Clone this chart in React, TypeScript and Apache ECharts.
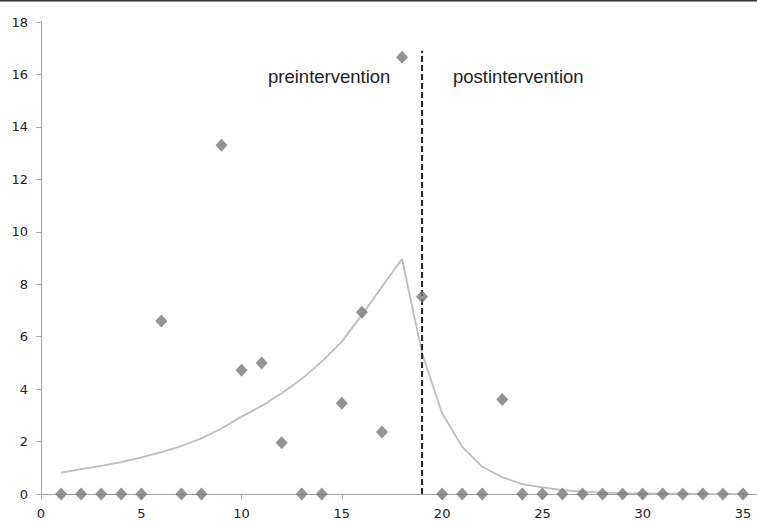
import React, { useEffect, useRef } from "react";
import * as echarts from "echarts";

// Observations (session number, value)
const obsX = [1, 2, 3, 4, 5, 6, 7, 8, 9, 10, 11, 12, 13, 14, 15, 16, 17, 18, 19, 20, 21, 22, 23, 24, 25, 26, 27, 28, 29, 30, 31, 32, 33, 34, 35];
const obsY = [0, 0, 0, 0, 0, 6.6, 0, 0, 13.3, 4.72, 5.0, 1.95, 0, 0, 3.46, 6.93, 2.36, 16.66, 7.52, 0, 0, 0, 3.6, 0, 0, 0, 0, 0, 0, 0, 0, 0, 0, 0, 0];

// Fitted trend curve
const fitX = [1, 2, 3, 4, 5, 6, 7, 8, 9, 10, 11, 12, 13, 14, 15, 16, 17, 18, 19, 20, 21, 22, 23, 24, 25, 26, 27, 28, 29, 30, 31, 32, 33, 34, 35];
const fitY = [0.81, 0.95, 1.07, 1.22, 1.4, 1.6, 1.83, 2.12, 2.5, 2.95, 3.36, 3.84, 4.39, 5.05, 5.81, 6.83, 7.9, 8.96, 5.37, 3.08, 1.8, 1.04, 0.64, 0.38, 0.25, 0.15, 0.09, 0.05, 0.03, 0.02, 0.01, 0.01, 0.0, 0.0, 0.0];

// Intervention marker
const interventionX = 19;
const interventionTop = 16.9;

const phaseLabels = ["preintervention", "postintervention"];

export default function App() {
  const ref = useRef<HTMLDivElement>(null);
  useEffect(() => {
    if (!ref.current) return;
    const chart = echarts.init(ref.current, null, { renderer: "svg" });
    const axisColor = "#a3a3a3";
    chart.setOption({
      animation: false,
      backgroundColor: "#ffffff",
      grid: {
        left: 41,
        right: 0,
        top: 22,
        bottom: 29,
        containLabel: false,
        outerBoundsMode: "none",
      },
      xAxis: {
        type: "value",
        min: 0,
        max: 35.7,
        interval: 5,
        axisLine: { show: true, lineStyle: { color: axisColor, width: 1 } },
        axisTick: { show: true, length: 5, inside: false, lineStyle: { color: axisColor } },
        splitLine: { show: false },
        axisLabel: {
          showMaxLabel: false,
          margin: 13,
          color: "#222",
          fontFamily: "DejaVu Sans",
          fontSize: 13,
        },
      },
      yAxis: {
        type: "value",
        min: 0,
        max: 18,
        interval: 2,
        axisLine: { show: true, lineStyle: { color: axisColor, width: 1 } },
        axisTick: { show: true, length: 5, lineStyle: { color: axisColor } },
        splitLine: { show: false },
        axisLabel: {
          margin: 13,
          color: "#222",
          fontFamily: "DejaVu Sans",
          fontSize: 13,
        },
      },
      series: [
        {
          type: "line",
          data: fitX.map((x, i) => [x, fitY[i]]),
          showSymbol: false,
          symbol: "none",
          smooth: false,
          lineStyle: { color: "#bdbdbd", width: 1.8 },
          z: 2,
        },
        {
          type: "line",
          data: [
            [interventionX, 0],
            [interventionX, interventionTop],
          ],
          symbol: "none",
          lineStyle: { color: "#222", width: 2, type: [6, 3] },
          z: 3,
        },
        {
          type: "scatter",
          data: obsX.map((x, i) => [x, obsY[i]]),
          symbol: "diamond",
          symbolSize: [12, 13],
          itemStyle: { color: "#787878" },
          z: 4,
        },
      ],
      graphic: [
        {
          type: "rect",
          left: 0,
          top: 0,
          shape: { width: 757, height: 1.5 },
          style: { fill: "#333" },
        },
        {
          type: "text",
          x: 268,
          y: 76,
          style: {
            text: phaseLabels[0],
            fill: "#222",
            font: "18.5px 'Liberation Sans', Arial, sans-serif",
            verticalAlign: "middle",
            textAlign: "left",
          },
        },
        {
          type: "text",
          x: 453,
          y: 76,
          style: {
            text: phaseLabels[1],
            fill: "#222",
            font: "18.5px 'Liberation Sans', Arial, sans-serif",
            verticalAlign: "middle",
            textAlign: "left",
          },
        },
      ],
    });
    return () => chart.dispose();
  }, []);
  return (
    <div
      ref={ref}
      style={{ position: "fixed", left: 0, top: 0, width: 757, height: 523, background: "#fff" }}
    />
  );
}
